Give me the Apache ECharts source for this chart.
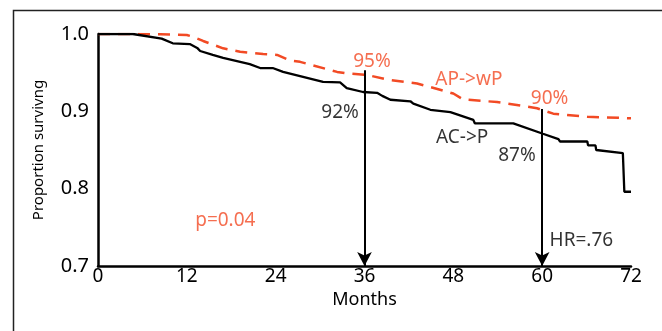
<!DOCTYPE html>
<html>
<head>
<meta charset="utf-8">
<script src="https://cdn.jsdelivr.net/npm/echarts@6/dist/echarts.min.js"></script>
<style>html,body{margin:0;padding:0;background:#fff;}#c{width:662px;height:331px;}</style>
</head>
<body>
<div id="c"></div>
<script>
const xTicks = [0, 12, 24, 36, 48, 60, 72];
const yTicks = [0.7, 0.8, 0.9, 1.0];
const acpCurve = [[0,1.0],[4.7,1.0],[8.6,0.994],[10.1,0.988],[12.4,0.987],[13.4,0.982],[13.8,0.978],[15.5,0.973],[16.9,0.969],[20.5,0.961],[21.9,0.956],[23.6,0.956],[25,0.951],[30.4,0.938],[32.7,0.9375],[33.6,0.930],[35.8,0.925],[37.7,0.924],[38.4,0.920],[39.5,0.915],[42.2,0.913],[42.6,0.910],[44.9,0.902],[47.6,0.899],[50.7,0.889],[50.9,0.8845],[56.1,0.8845],[60.1,0.871],[62.2,0.864],[62.4,0.861],[66.1,0.861],[66.2,0.856],[67.2,0.856],[67.3,0.850],[70.9,0.846],[71.1,0.796],[72,0.796]];
const apwpCurve = [[0,1.0],[4.7,1.0],[8.4,0.9996],[12.0,0.9987],[12.8,0.9965],[14.2,0.991],[16.9,0.9815],[19.2,0.977],[22.3,0.974],[24.2,0.973],[25.9,0.966],[27.3,0.964],[32.3,0.951],[33.6,0.949],[36.4,0.947],[39.1,0.941],[43.1,0.936],[46.2,0.928],[48,0.923],[49.3,0.9155],[53.9,0.912],[58,0.906],[59.3,0.904],[61.5,0.897],[66.1,0.893],[72,0.891]];
const arrows = [[36, 0.953], [60, 0.903]];
const annotations = [
  {x: 37.0, y: 0.9638, text: '95%', color: 'red'},
  {x: 32.7, y: 0.899, text: '92%', color: 'black'},
  {x: 50.1, y: 0.9405, text: 'AP->wP', color: 'red'},
  {x: 61.0, y: 0.917, text: '90%', color: 'red'},
  {x: 49.2, y: 0.8655, text: 'AC->P', color: 'black'},
  {x: 56.6, y: 0.843, text: '87%', color: 'black'},
  {x: 65.3, y: 0.733, text: 'HR=.76', color: 'black'},
  {x: 17.2, y: 0.759, text: 'p=0.04', color: 'red'}
];
const RED = '#f24a24';
const FONT = "'Noto Sans', 'Open Sans', sans-serif";
const chart = echarts.init(document.getElementById('c'), null, {renderer: 'canvas'});
chart.setOption({
  animation: false,
  backgroundColor: '#fff',
  grid: {left: 98, right: 31, top: 34, bottom: 65, containLabel: false},
  graphic: [{
    type: 'rect', left: 11, top: 8, shape: {width: 700, height: 400},
    style: {fill: 'none', stroke: '#222', lineWidth: 1.5}, silent: true
  }],
  xAxis: {
    type: 'value', min: 0, max: 72, interval: 12,
    name: 'Months', nameLocation: 'middle', nameGap: 24,
    nameTextStyle: {fontFamily: FONT, fontSize: 18, color: '#000'},
    axisLine: {show: true, onZero: false, lineStyle: {color: '#000', width: 2.5}},
    axisTick: {show: false}, splitLine: {show: false},
    axisLabel: {fontFamily: FONT, fontSize: 19, color: '#000', margin: 1,
      formatter: v => xTicks.includes(v) ? String(v) : ''}
  },
  yAxis: {
    type: 'value', min: 0.7, max: 1.0, interval: 0.1,
    name: 'Proportion survivng', nameLocation: 'middle', nameGap: 52,
    nameTextStyle: {fontFamily: FONT, fontSize: 15, color: '#000'},
    axisLine: {show: true, lineStyle: {color: '#000', width: 2.5}},
    axisTick: {show: false}, splitLine: {show: false},
    axisLabel: {fontFamily: FONT, fontSize: 20, color: '#000', margin: 9,
      formatter: v => { const t = yTicks.find(k => Math.abs(k - v) < 1e-6); return t === undefined ? '' : t.toFixed(1); }}
  },
  series: [
    {
      name: 'AP->wP', type: 'line', data: apwpCurve, symbol: 'none', z: 3,
      lineStyle: {color: RED, width: 2.5, type: [12, 8]}
    },
    {
      name: 'AC->P', type: 'line', data: acpCurve, symbol: 'none', z: 4,
      lineStyle: {color: '#000', width: 2.3}
    },
    {
      name: 'arrows', type: 'line', data: [], symbol: 'none', z: 5,
      markLine: {
        silent: true, animation: false,
        symbol: ['none', 'arrow'], symbolSize: [11, 14],
        label: {show: false},
        lineStyle: {color: '#000', width: 2, type: 'solid'},
        data: arrows.map(a => [{coord: [a[0], a[1]]}, {coord: [a[0], 0.7]}])
      }
    },
    {
      name: 'labels', type: 'scatter', symbolSize: 0, z: 6, silent: true,
      data: annotations.map(a => ({
        value: [a.x, a.y],
        label: {show: true, position: 'inside', formatter: a.text,
          color: a.color === 'red' ? RED : '#000', fontFamily: FONT, fontSize: 19}
      }))
    }
  ]
});
</script>
</body>
</html>
